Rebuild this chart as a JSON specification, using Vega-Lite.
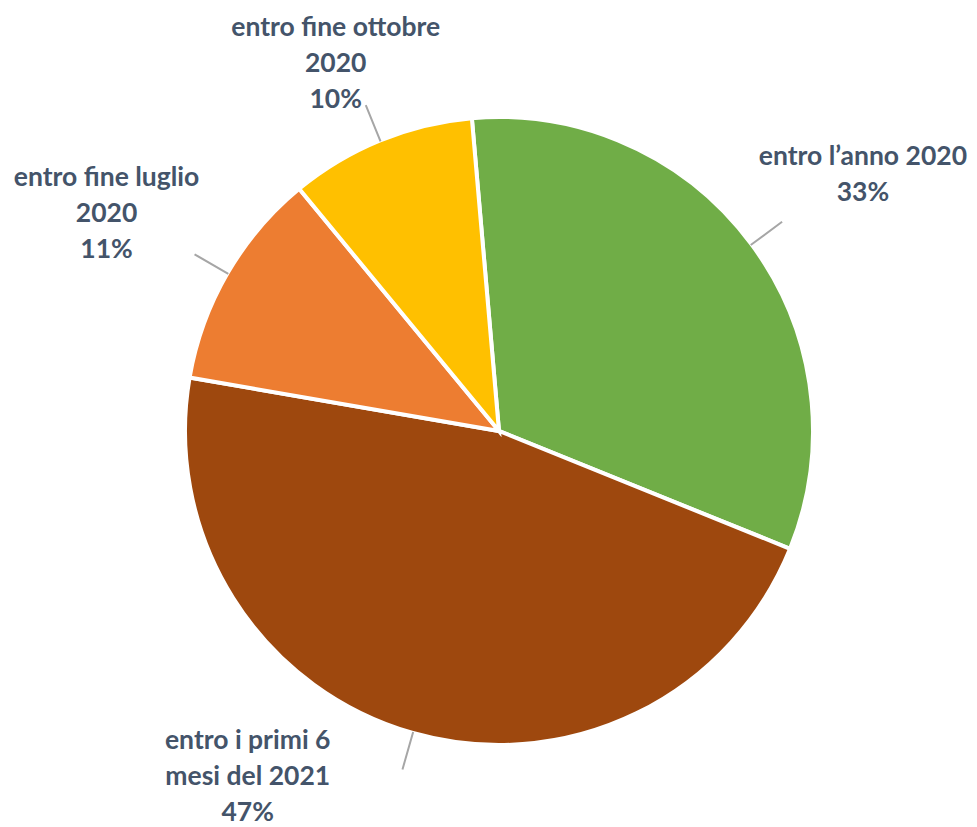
{
  "$schema": "https://vega.github.io/schema/vega-lite/v6.json",
  "width": 956,
  "height": 792,
  "autosize": {"type": "none"},
  "padding": {"left": 21, "top": 35, "right": 0, "bottom": 0},
  "background": "white",
  "config": {"view": {"stroke": null}},
  "data": {
    "values": [
      {"cat": "entro l’anno 2020", "value": 32.5, "ord": 1, "label": "entro l’anno  2020\n33%"},
      {"cat": "entro i primi 6 mesi del 2021", "value": 46.6, "ord": 2, "label": "entro i primi 6\nmesi del 2021\n47%"},
      {"cat": "entro fine luglio 2020", "value": 11.3, "ord": 3, "label": "entro fine luglio\n2020\n11%"},
      {"cat": "entro fine ottobre 2020", "value": 9.6, "ord": 4, "label": "entro fine ottobre\n2020\n10%"}
    ]
  },
  "encoding": {
    "theta": {"field": "value", "type": "quantitative", "stack": true, "scale": {"range": [-0.0866, 6.1966]}},
    "order": {"field": "ord", "type": "quantitative"},
    "detail": {"field": "cat", "type": "nominal"}
  },
  "layer": [
    {
      "mark": {"type": "arc", "radius": 314, "stroke": "white", "strokeWidth": 4},
      "encoding": {
        "color": {
          "field": "cat",
          "type": "nominal",
          "legend": null,
          "scale": {
            "domain": ["entro l’anno 2020", "entro i primi 6 mesi del 2021", "entro fine luglio 2020", "entro fine ottobre 2020"],
            "range": ["#70AD47", "#9E480E", "#ED7D31", "#FFC000"]
          }
        }
      }
    },
    {
      "mark": {"type": "arc", "radius": 352, "radius2": 313, "padAngle": 3, "fillOpacity": 0, "fill": "white", "stroke": "#A6A6A6", "strokeWidth": 2}
    },
    {
      "mark": {"type": "text", "radius": 445, "dx": 6, "dy": -10, "font": "Lato", "fontSize": 26.5, "fontWeight": "bold", "fill": "#44546A", "lineBreak": "\n", "lineHeight": 36, "align": "center", "baseline": "middle"},
      "encoding": {"text": {"condition": {"test": "datum.ord === 1", "field": "label", "type": "nominal"}, "value": ""}}
    },
    {
      "mark": {"type": "text", "radius": 362, "dx": -152, "dy": -38, "font": "Lato", "fontSize": 26.5, "fontWeight": "bold", "fill": "#44546A", "lineBreak": "\n", "lineHeight": 36, "align": "center", "baseline": "middle"},
      "encoding": {"text": {"condition": {"test": "datum.ord === 2", "field": "label", "type": "nominal"}, "value": ""}}
    },
    {
      "mark": {"type": "text", "radius": 448, "dx": -5, "dy": -28, "font": "Lato", "fontSize": 26.5, "fontWeight": "bold", "fill": "#44546A", "lineBreak": "\n", "lineHeight": 36, "align": "center", "baseline": "middle"},
      "encoding": {"text": {"condition": {"test": "datum.ord === 3", "field": "label", "type": "nominal"}, "value": ""}}
    },
    {
      "mark": {"type": "text", "radius": 405, "dx": -10, "dy": -28, "font": "Lato", "fontSize": 26.5, "fontWeight": "bold", "fill": "#44546A", "lineBreak": "\n", "lineHeight": 36, "align": "center", "baseline": "middle"},
      "encoding": {"text": {"condition": {"test": "datum.ord === 4", "field": "label", "type": "nominal"}, "value": ""}}
    }
  ]
}
